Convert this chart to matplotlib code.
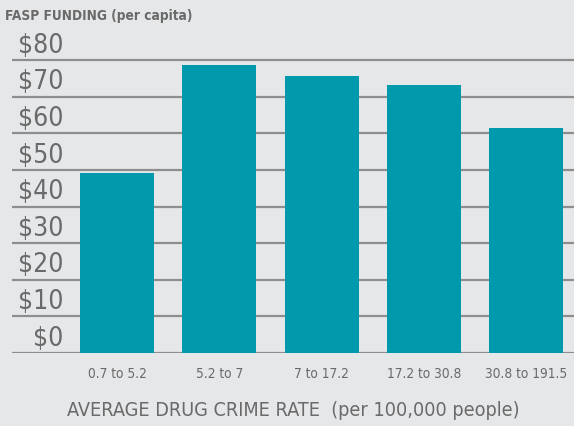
import matplotlib.pyplot as plt

# data
categories = ["0.7 to 5.2", "5.2 to 7", "7 to 17.2", "17.2 to 30.8", "30.8 to 191.5"]
funding = [49.2, 78.7, 75.7, 73.2, 61.5]
y_ticks = [0, 10, 20, 30, 40, 50, 60, 70, 80]
y_labels = ["$" + str(v) for v in y_ticks]

BG = "#e6e7e9"
TEAL = "#009aac"
GRID = "#8e8e8e"
TXT = "#6a6a6a"
FONT = dict(family="DejaVu Sans", stretch="condensed")

W, H = 574, 426
fig = plt.figure(figsize=(W / 100, H / 100), dpi=100, facecolor=BG)

# axes placed in pixel terms: x 12..574, y from 42 (top) to 353 (zero line)
ymax = 85
top_px, zero_px = 42, 353
ax = fig.add_axes([12 / W, (H - zero_px) / H, 1 - 12 / W, (zero_px - top_px) / H])
ax.set_facecolor(BG)
ax.set_xlim(-1.03, 4.47)
ax.set_ylim(0, ymax)

for v in y_ticks:
    ax.axhline(v, color=GRID, lw=1.6, zorder=1)

x = range(len(categories))
ax.bar(x, funding, width=0.725, color=TEAL, zorder=2)

for v, lab in zip(y_ticks, y_labels):
    ax.text(-0.53, v + 0.4, lab, ha="right", va="bottom", fontsize=19,
            color=TXT, zorder=3, **FONT)

for i, c in enumerate(categories):
    ax.text(i, -3.8, c, ha="center", va="top", fontsize=9.8, color=TXT, **FONT)

for s in ax.spines.values():
    s.set_visible(False)
ax.set_xticks([])
ax.set_yticks([])

fig.text(5 / W, 1 - 16 / H, "FASP FUNDING (per capita)", ha="left", va="center",
         fontsize=9.8, color=TXT, fontweight="bold", **FONT)
fig.text(0.511, 1 - 410 / H, "AVERAGE DRUG CRIME RATE  (per 100,000 people)",
         ha="center", va="center", fontsize=14.2, color=TXT, **FONT)

fig.savefig("out.png", dpi=100, facecolor=BG)
